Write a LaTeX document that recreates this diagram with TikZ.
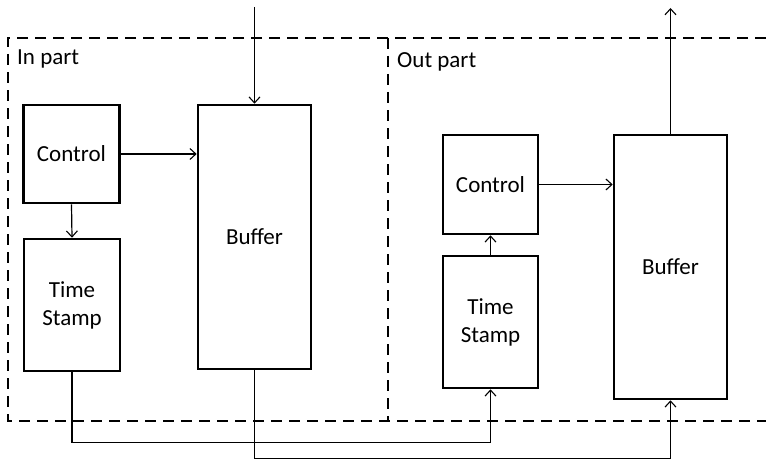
\documentclass[tikz,border=0pt]{standalone}
\usepackage{fontspec}
\setsansfont{Carlito}
\usetikzlibrary{positioning, arrows.meta}

\begin{document}
\begin{tikzpicture}[
    x=1pt, y=-1pt,
    >={Straight Barb[length=6pt, width=11pt, line width=1.1pt]},
    font=\sffamily\fontsize{23}{28}\selectfont,
    block/.style={draw, line width=2.6pt, minimum width=96pt, align=center, inner sep=0pt},
    buffer/.style={draw, line width=2.6pt, minimum width=113pt, minimum height=264pt, inner sep=0pt},
    line/.style={->, line width=1.2pt},
    frame/.style={line width=2.6pt, dash pattern=on 11pt off 7pt}
    ]

\useasboundingbox (0,0) rectangle (766,460);

% Dashed frames of the two parts
\draw[frame] (766,38) -- (8,38) -- (8,421) -- (766,421);
\draw[frame] (388,38) -- (388,421);
\node[anchor=base west, inner sep=0pt] (inlabel)  at (17,65) {In part};
\node[anchor=base west, inner sep=0pt] (outlabel) at (397,68) {Out part};

% In part blocks
\node[block, minimum height=98pt]  (inctrl) at (71.5,154) {Control};
\node[block, minimum height=132pt] (ints)   at (72,305)   {Time\\Stamp};
\node[buffer] (inbuf) at (254.5,237) {Buffer};

% Out part blocks
\node[block, minimum width=95pt, minimum height=99pt]  (outctrl) at (490.5,184.5) {Control};
\node[block, minimum width=95pt, minimum height=132pt] (outts)   at (490.5,322)   {Time\\Stamp};
\node[buffer] (outbuf) at (670.5,267) {Buffer};

% Free ends at the top
\coordinate (src)  at (254.5,7);
\coordinate (sink) at (670.5,8);

% Arrows inside the parts
\draw[line] (src) -- (inbuf.north);
\draw[line] (inctrl.east) -- (inctrl.east -| inbuf.west);
\draw[line] (inctrl.south) -- (ints.north);
\draw[line] (outts.north) -- (outctrl.south);
\draw[line] (outctrl.east) -- (outctrl.east -| outbuf.west);
\draw[line] (outbuf.north) -- (sink);

% Links between the parts
\draw[line] (ints.south) -- ++(0,70) -| (outts.south);
\draw[line] (inbuf.south) -- ++(0,88) -| (outbuf.south);

\end{tikzpicture}
\end{document}
